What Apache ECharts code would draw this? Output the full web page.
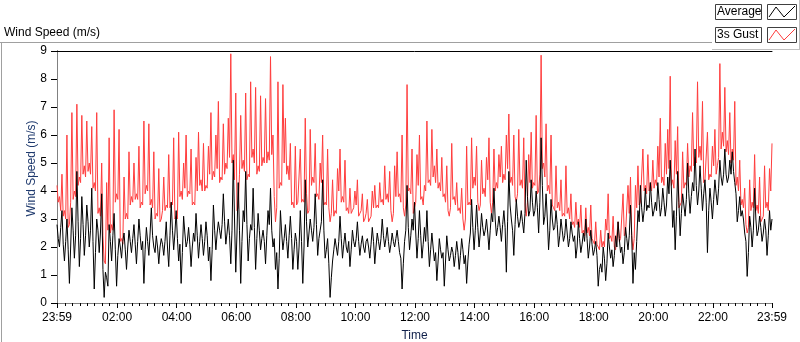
<!DOCTYPE html>
<html>
<head>
<meta charset="utf-8">
<title>Wind Speed (m/s)</title>
<script src="https://cdn.jsdelivr.net/npm/echarts@6.0.0/dist/echarts.min.js"></script>
<style>
  html, body { margin: 0; padding: 0; background: #fff; }
  #chart { width: 800px; height: 342px; }
</style>
</head>
<body>
<div id="chart"></div>
<script>
// samples every 5 minutes from 23:59 of the previous day,
// plus one extra reading half-way between each pair
const stepMinutes = 5;

// 3s Gust (m/s), on the 5 min marks
const gustValues = [
  4.2, 3.8, 4.6, 3.3, 6.0, 2.8, 6.8, 4.0, 7.1, 4.5,
  6.7, 4.9, 6.5, 5.0, 6.3, 4.3, 6.8, 3.4, 5.0, 1.5,
  4.3, 5.9, 2.8, 6.9, 3.9, 6.2, 2.3, 4.5, 3.2, 5.4,
  3.8, 5.0, 3.9, 5.6, 3.6, 6.5, 4.2, 6.4, 3.7, 5.4,
  3.2, 4.8, 3.0, 4.5, 3.5, 5.3, 3.6, 5.9, 3.1, 6.1,
  4.0, 5.0, 6.0, 4.0, 5.5, 3.6, 5.2, 6.1, 4.4, 5.7,
  4.2, 5.6, 6.8, 4.7, 6.0, 7.2, 4.5, 6.4, 5.0, 6.6,
  8.9, 5.3, 7.5, 3.4, 6.7, 5.1, 7.5, 4.6, 7.9, 5.5,
  7.7, 4.9, 7.4, 5.2, 7.3, 5.4, 8.8, 6.0, 2.9, 7.9,
  4.3, 7.8, 6.6, 4.9, 5.7, 3.6, 5.6, 3.6, 5.5, 3.7,
  6.6, 3.2, 6.2, 4.5, 5.7, 3.9, 5.0, 6.0, 3.6, 5.5,
  2.9, 4.4, 3.3, 4.8, 5.5, 3.8, 5.1, 3.4, 4.1, 3.3,
  4.0, 4.4, 3.2, 3.9, 3.0, 3.7, 2.9, 4.0, 4.2, 3.5,
  4.3, 3.7, 4.9, 3.9, 4.7, 2.9, 4.9, 5.4, 3.9, 6.0,
  3.1, 7.8, 4.1, 5.5, 3.2, 5.3, 6.0, 3.8, 4.2, 6.5,
  4.4, 6.2, 4.9, 5.5, 4.3, 5.2, 3.9, 4.9, 3.1, 5.7,
  3.8, 4.3, 3.4, 4.1, 2.6, 5.6, 3.6, 5.9, 4.5, 5.6,
  3.3, 5.1, 4.1, 5.2, 5.9, 3.2, 5.5, 4.3, 5.3, 5.6,
  4.6, 6.0, 6.75, 4.5, 6.0, 3.6, 6.2, 4.4, 5.9, 3.1,
  5.3, 6.1, 4.3, 6.7, 4.0, 8.85, 5.0, 6.4, 4.2, 6.0,
  3.4, 4.9, 3.6, 4.4, 3.2, 4.9, 3.4, 3.9, 2.9, 3.6,
  3.0, 3.5, 2.6, 3.4, 2.7, 3.5, 2.3, 2.9, 2.0, 2.6,
  2.2, 3.0, 3.9, 2.4, 3.1, 1.9, 2.9, 2.3, 3.9, 2.5,
  4.2, 4.5, 1.9, 4.2, 4.9, 3.6, 5.5, 4.2, 5.3, 4.3,
  5.1, 4.4, 5.6, 6.6, 4.5, 5.7, 6.2, 8.1, 4.4, 5.8,
  6.3, 3.5, 5.4, 4.3, 5.7, 4.9, 6.8, 5.2, 7.9, 5.6,
  7.2, 4.4, 6.1, 4.6, 5.6, 6.2, 4.9, 8.55, 6.1, 7.7,
  5.8, 6.8, 5.5, 7.2, 4.5, 5.1, 3.7, 4.1, 2.5, 4.4,
  3.6, 5.3, 3.5, 4.5, 3.0, 4.9, 3.6, 4.8, 5.7
];

// 3s Gust (m/s), half-way readings (2.5 min after each mark)
const gustHalfStepValues = [
  3.6, 3.3, 3.1, 3.0, 2.7, 3.6, 3.7, 3.8, 4.2, 4.3,
  4.6, 4.5, 4.7, 4.6, 4.1, 4.0, 3.2, 3.1, 2.4, 1.4,
  2.6, 2.5, 2.6, 3.6, 3.7, 2.2, 2.1, 3.0, 3.0, 3.5,
  3.6, 3.7, 3.7, 3.4, 3.5, 3.9, 4.0, 3.5, 3.4, 3.0,
  3.1, 2.9, 3.3, 3.3, 3.4, 3.4, 3.5, 3.0, 3.0, 3.8,
  3.7, 4.1, 3.8, 3.9, 3.5, 3.5, 4.0, 4.2, 4.0, 4.0,
  4.1, 4.6, 4.4, 4.5, 4.8, 4.3, 4.4, 4.6, 4.8, 5.2,
  5.0, 4.4, 3.3, 4.6, 4.8, 4.7, 4.4, 4.5, 5.2, 5.0,
  4.6, 4.7, 4.9, 5.0, 5.0, 5.1, 5.3, 3.8, 3.4, 4.1,
  4.2, 5.0, 4.6, 4.4, 3.5, 3.4, 3.5, 3.6, 3.6, 3.6,
  3.9, 3.3, 4.2, 4.3, 3.8, 3.7, 4.3, 3.5, 3.5, 3.4,
  3.2, 3.1, 3.2, 4.0, 3.6, 3.6, 3.3, 3.2, 3.2, 3.4,
  3.5, 3.1, 3.3, 2.9, 3.2, 2.9, 3.1, 3.4, 3.4, 3.4,
  3.6, 3.5, 3.7, 3.6, 3.3, 3.2, 3.8, 3.8, 3.6, 3.4,
  3.5, 4.0, 3.9, 3.2, 3.6, 4.2, 3.7, 3.5, 4.0, 4.3,
  4.2, 4.5, 4.3, 4.1, 4.0, 3.8, 3.6, 3.3, 3.4, 3.7,
  3.5, 3.3, 3.2, 3.0, 3.0, 3.5, 3.5, 4.1, 4.2, 3.6,
  3.5, 3.9, 3.8, 4.4, 3.6, 3.6, 4.0, 4.1, 4.5, 4.3,
  4.4, 4.8, 4.3, 4.2, 3.8, 3.9, 4.2, 4.1, 3.5, 3.6,
  4.3, 4.1, 4.2, 3.9, 4.6, 4.8, 4.5, 4.0, 3.9, 3.5,
  3.3, 3.4, 3.3, 3.1, 3.1, 3.2, 3.0, 2.8, 2.7, 2.8,
  2.7, 2.5, 2.4, 2.5, 2.4, 2.3, 2.1, 2.1, 1.9, 2.0,
  2.0, 2.6, 2.3, 2.2, 2.0, 1.9, 2.2, 2.3, 2.4, 2.5,
  3.2, 2.4, 2.3, 3.4, 3.5, 3.6, 4.0, 3.9, 4.0, 4.0,
  4.1, 4.2, 4.5, 4.3, 4.2, 4.6, 4.8, 4.2, 4.1, 4.6,
  3.4, 3.6, 4.1, 4.2, 4.5, 4.7, 4.9, 5.0, 5.2, 5.1,
  4.3, 4.4, 4.4, 4.5, 4.9, 4.6, 5.2, 5.5, 5.6, 5.4,
  5.3, 5.0, 5.1, 4.2, 4.0, 3.5, 3.4, 2.8, 2.7, 3.3,
  3.4, 3.3, 3.2, 2.9, 3.1, 3.4, 3.3, 4.0
];

// Average (m/s), on the 5 min marks
const averageValues = [
  2.8, 2.0, 3.3, 1.5, 3.0, 0.7, 3.4, 1.6, 4.7, 1.3,
  3.8, 1.7, 3.5, 2.0, 4.1, 0.5, 3.0, 1.8, 3.9, 0.2,
  0.9, 2.8, 1.5, 3.2, 0.6, 2.3, 1.6, 2.5, 1.2, 2.6,
  1.8, 2.8, 1.4, 3.0, 1.9, 0.7, 2.7, 1.7, 3.4, 2.0,
  2.4, 1.4, 2.3, 1.7, 2.9, 1.3, 3.6, 1.9, 3.3, 1.5,
  0.7, 3.1, 2.0, 2.7, 1.3, 2.5, 3.2, 1.6, 2.8, 1.7,
  2.9, 1.5, 0.8, 3.5, 1.9, 2.9, 2.3, 3.9, 2.1, 3.0,
  1.4, 5.1, 1.1, 4.3, 0.7, 3.3, 4.7, 1.5, 2.8, 4.1,
  1.2, 3.2, 1.9, 2.6, 1.4, 3.3, 4.1, 2.0, 1.2, 0.5,
  3.3, 1.9, 2.8, 1.6, 3.1, 1.2, 2.5, 1.2, 3.3, 0.7,
  4.4, 2.0, 3.0, 2.2, 3.9, 1.7, 2.6, 4.4, 1.6, 2.3,
  0.2, 1.5, 2.3, 1.7, 3.1, 1.6, 2.5, 1.8, 1.3, 2.6,
  2.0, 2.9, 1.7, 2.4, 1.8, 2.3, 1.6, 2.7, 1.4, 2.5,
  1.9, 3.0, 2.0, 2.7, 1.8, 2.5, 2.0, 2.6, 1.8, 0.5,
  2.2, 4.2, 1.9, 3.0, 3.6, 1.6, 3.3, 1.6, 2.7, 3.3,
  1.3, 2.5, 1.5, 0.8, 2.3, 1.6, 0.6, 2.4, 1.5, 2.0,
  1.3, 2.2, 1.2, 2.3, 1.4, 0.7, 2.1, 3.7, 1.9, 3.5,
  2.0, 3.2, 2.4, 3.0, 1.9, 3.2, 4.1, 2.4, 3.1, 2.2,
  3.3, 1.1, 4.7, 3.0, 1.7, 3.7, 2.7, 3.3, 2.5, 5.1,
  3.1, 4.4, 3.1, 4.0, 2.5, 5.9, 2.8, 3.9, 1.9, 3.7,
  2.6, 3.3, 2.0, 3.0, 2.2, 3.0, 2.0, 2.9, 2.2, 1.6,
  2.9, 1.8, 2.5, 3.0, 1.6, 2.6, 1.7, 2.2, 0.6, 1.4,
  2.0, 0.8, 2.5, 1.6, 1.3, 2.4, 2.9, 1.8, 1.4, 2.7,
  1.9, 3.5, 0.7, 1.2, 3.3, 4.2, 2.9, 4.1, 3.5, 4.3,
  3.1, 3.6, 4.3, 3.1, 4.1, 3.1, 4.5, 5.1, 2.7, 1.9,
  4.7, 2.4, 3.9, 3.1, 5.0, 3.2, 4.3, 5.5, 3.5, 4.9,
  3.3, 4.4, 1.8, 4.1, 3.0, 4.4, 3.5, 5.1, 4.2, 5.5,
  4.3, 5.1, 5.4, 4.3, 2.9, 3.8, 3.3, 2.5, 0.95, 3.1,
  2.0, 4.1, 2.4, 3.1, 2.2, 3.0, 1.7, 3.3, 3.0
];

// Average (m/s), half-way readings
const averageHalfStepValues = [
  2.3, 2.7, 2.1, 2.2, 1.9, 2.0, 2.6, 2.4, 2.9, 2.3,
  2.8, 2.4, 2.9, 2.6, 2.2, 1.8, 2.6, 2.5, 1.2, 1.1,
  0.6, 2.2, 2.4, 1.9, 1.7, 2.0, 2.2, 1.9, 2.0, 2.2,
  2.3, 2.1, 2.2, 2.4, 2.2, 1.9, 2.2, 2.5, 2.4, 1.8,
  2.0, 2.0, 2.1, 2.2, 2.0, 2.4, 2.6, 2.5, 2.3, 2.1,
  1.8, 2.5, 2.2, 2.1, 2.0, 2.2, 2.4, 2.2, 2.3, 2.2,
  2.4, 2.0, 1.9, 2.6, 2.5, 2.6, 2.8, 2.9, 2.5, 2.4,
  2.6, 3.0, 2.5, 2.6, 2.2, 2.9, 2.8, 2.3, 2.6, 2.7,
  2.3, 2.6, 2.3, 2.2, 2.4, 2.8, 2.6, 2.3, 1.8, 1.6,
  2.5, 2.3, 2.2, 2.4, 2.3, 1.9, 2.2, 2.0, 2.2, 2.0,
  2.9, 2.5, 2.6, 2.7, 2.8, 2.3, 2.9, 2.6, 1.9, 1.4,
  0.9, 1.9, 2.0, 2.2, 2.3, 2.1, 2.0, 2.2, 1.9, 2.2,
  2.3, 2.2, 2.1, 2.0, 2.2, 2.0, 2.1, 2.2, 2.0, 2.2,
  2.3, 2.4, 2.3, 2.2, 2.1, 2.2, 2.3, 2.2, 1.6, 1.4,
  2.6, 2.7, 2.4, 2.6, 2.5, 2.3, 2.4, 2.1, 2.2, 2.2,
  1.9, 2.0, 1.8, 1.5, 1.9, 1.8, 1.5, 1.9, 1.7, 1.8,
  1.7, 1.8, 1.7, 1.9, 1.7, 1.5, 2.5, 2.7, 2.6, 2.7,
  2.5, 2.7, 2.6, 2.5, 2.6, 2.9, 3.0, 2.7, 2.7, 2.8,
  2.7, 2.9, 3.5, 2.6, 2.8, 3.1, 2.9, 2.9, 3.2, 3.8,
  3.3, 3.6, 3.3, 3.4, 3.6, 4.2, 3.1, 3.0, 2.6, 3.0,
  2.7, 2.8, 2.4, 2.6, 2.4, 2.5, 2.3, 2.5, 2.4, 2.0,
  2.3, 2.1, 2.2, 2.3, 2.0, 2.1, 1.9, 1.7, 1.2, 1.1,
  1.6, 1.4, 2.0, 1.9, 1.7, 2.0, 2.3, 2.0, 1.8, 2.3,
  2.4, 2.4, 1.8, 2.2, 2.9, 3.4, 3.3, 3.3, 3.4, 3.6,
  3.3, 3.3, 3.7, 3.4, 3.6, 3.5, 3.9, 4.0, 3.3, 3.1,
  3.6, 3.2, 3.5, 3.7, 3.9, 3.8, 4.0, 4.2, 4.0, 4.1,
  3.9, 3.6, 3.3, 3.6, 3.7, 3.9, 4.1, 4.5, 4.6, 4.6,
  4.5, 4.6, 4.7, 3.9, 3.3, 3.1, 3.0, 2.2, 1.8, 2.7,
  2.6, 3.0, 2.6, 2.7, 2.5, 2.6, 2.4, 2.6
];

// labelled ticks, in minutes after 23:59
const majorTickMinutes = [0, 121, 241, 361, 481, 601, 721, 841, 961, 1081, 1201, 1321, 1440];
const timeLabels = ['23:59', '02:00', '04:00', '06:00', '08:00', '10:00', '12:00',
                    '14:00', '16:00', '18:00', '20:00', '22:00', '23:59'];

document.addEventListener('DOMContentLoaded', function(){
  var chart = echarts.init(document.getElementById('chart'), null, { renderer: 'canvas' });

  var font = '"Liberation Sans", Arial, sans-serif';

  // merge the 5 min readings with the half-way ones, in time order
  var toPairs = function(onStep, halfStep){
    var out = [];
    for (var i = 0; i < onStep.length; i++) {
      out.push([i * stepMinutes, onStep[i]]);
      if (i < halfStep.length) out.push([i * stepMinutes + stepMinutes / 2, halfStep[i]]);
    }
    return out;
  };

  // small ticks every 15 min, aligned with the hour marks
  var minorTicks = [0];
  for (var m = 1; m <= 1440; m += 15) minorTicks.push(m);
  minorTicks.push(1440);

  // legend box + swatch with a little zigzag, LabVIEW style
  var legendRow = function(top, label, color){
    return [
      { type: 'rect', shape: { x: 715.5, y: top + 0.5, width: 46, height: 15 },
        style: { fill: '#fff', stroke: '#404040', lineWidth: 1 } },
      { type: 'text', x: 717, y: top + 8, style: { text: label, font: '12px ' + font, fill: '#000', verticalAlign: 'middle' } },
      { type: 'rect', shape: { x: 767.5, y: top + 0.5, width: 29, height: 15 },
        style: { fill: '#fff', stroke: '#404040', lineWidth: 1 } },
      { type: 'polyline', shape: { points: [[769, top + 13], [776, top + 3], [784, top + 13], [795, top + 2]] },
        style: { stroke: color, lineWidth: 1, fill: null } }
    ];
  };

  chart.setOption({
    animation: false,
    backgroundColor: '#fff',
    grid: { left: 57, right: 28, top: 51, bottom: 39, containLabel: false, outerBoundsMode: 'none' },
    xAxis: [
      {
        type: 'value', min: 0, max: 1440, position: 'bottom',
        name: 'Time', nameLocation: 'middle', nameGap: 27,
        nameTextStyle: { color: '#10204a', fontSize: 12, fontFamily: font },
        axisLine: { show: true, lineStyle: { color: '#808080', width: 1 } },
        axisTick: { show: true, inside: false, length: 5, customValues: majorTickMinutes, lineStyle: { color: '#000' } },
        axisLabel: {
          customValues: majorTickMinutes, margin: 9, color: '#000', fontSize: 12, fontFamily: font,
          formatter: function(v){ var k = majorTickMinutes.indexOf(v); return k >= 0 ? timeLabels[k] : ''; }
        },
        splitLine: { show: false }
      },
      {
        // minor ticks only
        type: 'value', min: 0, max: 1440, position: 'bottom',
        axisLine: { show: false },
        axisTick: { show: true, length: 3, customValues: minorTicks, lineStyle: { color: '#000' } },
        axisLabel: { show: false },
        splitLine: { show: false }
      },
      {
        // top edge of the plot frame
        type: 'value', min: 0, max: 1440, position: 'top',
        axisLine: { show: true, lineStyle: { color: '#000', width: 1 } },
        axisTick: { show: false }, axisLabel: { show: false }, splitLine: { show: false }
      }
    ],
    yAxis: [
      {
        type: 'value', min: 0, max: 9, interval: 1,
        axisLine: { show: true, lineStyle: { color: '#000', width: 1 } },
        axisTick: { show: true, length: 6, lineStyle: { color: '#000' } },
        axisLabel: { margin: 10, color: '#000', fontSize: 12, fontFamily: font },
        splitLine: { show: false }
      },
      {
        // right edge of the plot frame
        type: 'value', min: 0, max: 9, position: 'right',
        axisLine: { show: true, lineStyle: { color: '#808080', width: 1 } },
        axisTick: { show: false }, axisLabel: { show: false }, splitLine: { show: false }
      }
    ],
    series: [
      {
        name: '3s Gust', type: 'line', xAxisIndex: 0, yAxisIndex: 0,
        showSymbol: false, smooth: false, clip: true,
        lineStyle: { width: 1, color: '#ff3d3d' },
        data: toPairs(gustValues, gustHalfStepValues)
      },
      {
        name: 'Average', type: 'line', xAxisIndex: 0, yAxisIndex: 0,
        showSymbol: false, smooth: false, clip: true,
        lineStyle: { width: 1, color: '#000' },
        data: toPairs(averageValues, averageHalfStepValues)
      }
    ],
    graphic: [
      { type: 'text', left: 4, top: 27, style: { text: 'Wind Speed (m/s)', font: '12px ' + font, fill: '#000' } },
      { type: 'text', x: 31.5, y: 168.5, rotation: Math.PI / 2,
        style: { text: 'Wind Speed (m/s)', font: '12px ' + font, fill: '#1f3a6e', align: 'center', verticalAlign: 'middle' } },
      // outer panel frame
      { type: 'line', shape: { x1: 0, y1: 42.5, x2: 712, y2: 42.5 }, style: { stroke: '#a0a0a0', lineWidth: 1 } },
      { type: 'line', shape: { x1: 1.5, y1: 42.5, x2: 1.5, y2: 342 }, style: { stroke: '#a0a0a0', lineWidth: 1 } },
      { type: 'line', shape: { x1: 712, y1: 49.5, x2: 800, y2: 49.5 }, style: { stroke: '#c0c0c0', lineWidth: 1 } },
      { type: 'line', shape: { x1: 799.5, y1: 0, x2: 799.5, y2: 49.5 }, style: { stroke: '#c0c0c0', lineWidth: 1 } }
    ].concat(legendRow(4, 'Average', '#000'), legendRow(27, '3s Gust', '#ff3d3d'))
  });

  window.addEventListener('resize', function(){ chart.resize(); });
});
</script>
</body>
</html>
